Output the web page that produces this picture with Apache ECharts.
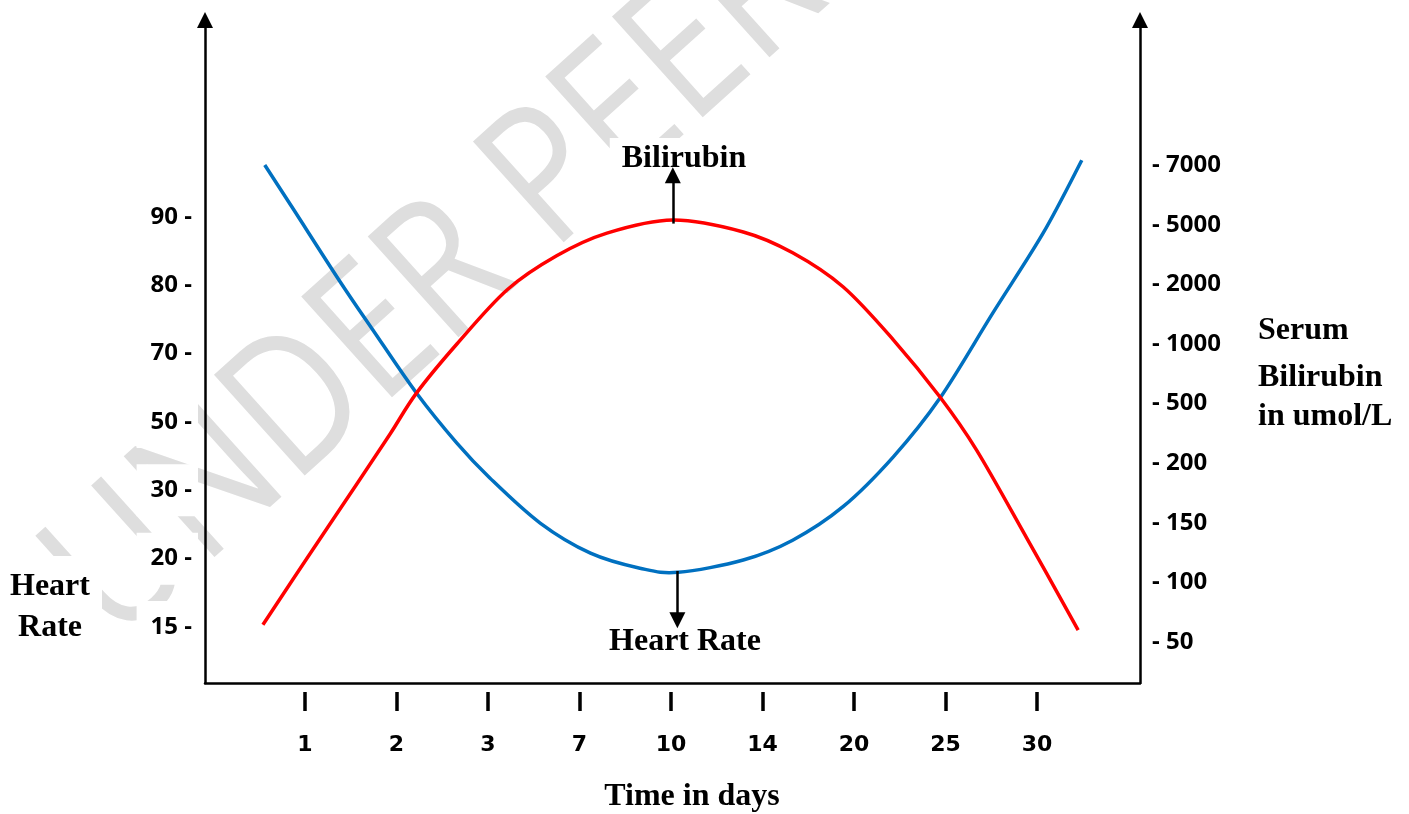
<!DOCTYPE html>
<html>
<head>
<meta charset="utf-8">
<script src="https://cdn.jsdelivr.net/npm/echarts@6/dist/echarts.min.js"></script>
<style>
  html, body { margin: 0; padding: 0; background: #fff; }
  #main { width: 1409px; height: 814px; }
</style>
</head>
<body>
<div id="main"></div>
<script>
// tick labels, in the order they sit on each axis
var dayLabels = ['1', '2', '3', '7', '10', '14', '20', '25', '30'];
var heartLabels = ['15', '20', '30', '50', '70', '80', '90'];
var biliLabels = ['50', '100', '150', '200', '500', '1000', '2000', '5000', '7000'];

// x = tick slot (1 = day 1 ... 9 = day 30), y = label slot on its own axis
var heartRate = [
  [0.56, 7.76], [0.87, 7.12], [1.38, 6.06], [1.74, 5.35], [2.22, 4.42],
  [2.66, 3.69], [3.02, 3.18], [3.57, 2.52], [4.12, 2.08], [4.66, 1.86],
  [5.08, 1.80], [5.79, 1.98], [6.33, 2.27], [6.88, 2.76], [7.43, 3.49],
  [7.94, 4.35], [8.52, 5.60], [9.07, 6.77], [9.49, 7.83]
];
var bilirubin = [
  [0.54, 1.29], [1.02, 2.40], [1.57, 3.66], [1.93, 4.49], [2.22, 5.18],
  [2.66, 6.00], [3.21, 6.91], [3.75, 7.48], [4.30, 7.86], [5.02, 8.08],
  [5.79, 7.88], [6.33, 7.53], [6.88, 6.96], [7.43, 6.07], [7.94, 5.11],
  [8.34, 4.22], [8.89, 2.74], [9.45, 1.20]
];
// annotation arrows (from curve to arrow tip)
var biliArrow = [[5.02, 8.02], [5.02, 8.83]];
var heartArrow = [[5.07, 1.82], [5.07, 1.10]];

var dayTicks = dayLabels.map(function (d, i) { return i + 1; });
var heartTicks = heartLabels.map(function (d, i) { return i + 1; });
var biliTicks = biliLabels.map(function (d, i) { return i + 1; });

var serif = '"Liberation Serif", "Times New Roman", serif';
var sans = '"Open Sans", Lato, sans-serif';

function pick(arr, v) {
  var s = arr[Math.round(v) - 1];
  return s === undefined ? '' : s;
}

// 经过各数据点的平滑曲线 (catmull-rom -> bezier), 坐标由坐标轴换算
function splineItem(data, color) {
  return function (params, api) {
    if (params.dataIndex !== 0) return;
    var p = data.map(function (d) { return api.coord(d); });
    var path = 'M' + p[0][0] + ',' + p[0][1];
    for (var i = 0; i < p.length - 1; i++) {
      var p0 = p[i - 1] || p[i];
      var p1 = p[i];
      var p2 = p[i + 1];
      var p3 = p[i + 2] || p2;
      var c1x = p1[0] + (p2[0] - p0[0]) / 6;
      var c1y = p1[1] + (p2[1] - p0[1]) / 6;
      var c2x = p2[0] - (p3[0] - p1[0]) / 6;
      var c2y = p2[1] - (p3[1] - p1[1]) / 6;
      path += ' C' + c1x + ',' + c1y + ' ' + c2x + ',' + c2y + ' ' + p2[0] + ',' + p2[1];
    }
    return {
      type: 'path',
      shape: { pathData: path },
      style: { fill: 'none', stroke: color, lineWidth: 3.5 }
    };
  };
}

function arrowLine(pts) {
  return {
    silent: true, symbol: ['none', 'triangle'], symbolSize: 16,
    lineStyle: { color: '#000', width: 2.5, type: 'solid' },
    label: { show: false },
    emphasis: { disabled: true },
    data: [[{ coord: pts[0] }, { coord: pts[1] }]]
  };
}

var myChart = echarts.init(document.getElementById('main'));
var option = {
  backgroundColor: '#fff',
  animation: false,
  grid: { left: 205, right: 269, top: 20, bottom: 131 },
  xAxis: [{
    type: 'value', min: -0.093, max: 10.126,
    axisLine: { onZero: false, lineStyle: { color: '#000', width: 2.5 } },
    axisTick: { show: false },
    axisLabel: { show: false },
    splitLine: { show: false }
  }, {
    // tick marks sit a little below the axis line
    type: 'value', min: -0.093, max: 10.126,
    position: 'bottom', offset: 9,
    axisLine: { show: false, onZero: false },
    axisTick: { show: true, customValues: dayTicks, length: 19, lineStyle: { color: '#000', width: 3.5 } },
    axisLabel: {
      customValues: dayTicks, margin: 42,
      formatter: function (v) { return pick(dayLabels, v); },
      color: '#000', fontSize: 22, fontWeight: 'bold', fontFamily: '"DejaVu Sans", sans-serif'
    },
    splitLine: { show: false }
  }],
  yAxis: [{
    type: 'value', position: 'left', min: 0.18, max: 9.883,
    axisLine: { onZero: false, symbol: ['none', 'triangle'], symbolSize: [16, 16], lineStyle: { color: '#000', width: 2.5 } },
    axisTick: { show: false },
    axisLabel: {
      customValues: heartTicks, margin: 7,
      formatter: function (v) { return pick(heartLabels, v) + ' -'; },
      color: '#000', fontSize: 24, fontWeight: 'bold', fontFamily: sans,
      backgroundColor: '#fff', padding: [14, 6, 14, 14]
    },
    splitLine: { show: false }
  }, {
    type: 'value', position: 'right', min: 0.312, max: 11.436,
    axisLine: { onZero: false, symbol: ['none', 'triangle'], symbolSize: [16, 16], lineStyle: { color: '#000', width: 2.5 } },
    axisTick: { show: false },
    axisLabel: {
      customValues: biliTicks, margin: 12,
      formatter: function (v) { return '- ' + pick(biliLabels, v); },
      color: '#000', fontSize: 24, fontWeight: 'bold', fontFamily: sans
    },
    splitLine: { show: false }
  }],
  series: [{
    name: 'Heart Rate',
    type: 'custom', xAxisIndex: 0, yAxisIndex: 0, z: 3, clip: false,
    encode: { x: 0, y: 1 },
    data: heartRate,
    renderItem: splineItem(heartRate, '#0070c0'),
    markLine: arrowLine(heartArrow)
  }, {
    name: 'Bilirubin',
    type: 'custom', xAxisIndex: 0, yAxisIndex: 1, z: 3, clip: false,
    encode: { x: 0, y: 1 },
    data: bilirubin,
    renderItem: splineItem(bilirubin, '#ff0000'),
    markLine: arrowLine(biliArrow)
  }],
  graphic: [
    // watermark
    {
      type: 'text', x: 79, y: 606, rotation: 0.733, scaleX: 0.85, z: -10, silent: true,
      style: { text: 'UNDER PEER REVIEW', font: '190px "Open Sans", sans-serif', fill: '#dedede', textAlign: 'left', textVerticalAlign: 'middle' }
    },
    {
      type: 'text', x: 684, y: 159, z: 1,
      style: { text: 'Bilirubin', font: 'bold 32px ' + serif, fill: '#000', textAlign: 'center', textVerticalAlign: 'middle', backgroundColor: '#fff', padding: [10, 12, 0, 12] }
    },
    {
      type: 'text', x: 685, y: 642, z: 1,
      style: { text: 'Heart Rate', font: 'bold 32px ' + serif, fill: '#000', textAlign: 'center', textVerticalAlign: 'middle' }
    },
    {
      type: 'text', x: 50, y: 607,
      style: { text: 'Heart\nRate', font: 'bold 32px ' + serif, lineHeight: 41, fill: '#000', textAlign: 'center', textVerticalAlign: 'middle', backgroundColor: '#fff', padding: [10, 12] }
    },
    {
      type: 'text', x: 1258, y: 331,
      style: { text: 'Serum', font: 'bold 32px ' + serif, fill: '#000', textAlign: 'left', textVerticalAlign: 'middle' }
    },
    {
      type: 'text', x: 1258, y: 378,
      style: { text: 'Bilirubin', font: 'bold 32px ' + serif, fill: '#000', textAlign: 'left', textVerticalAlign: 'middle' }
    },
    {
      type: 'text', x: 1258, y: 417,
      style: { text: 'in umol/L', font: 'bold 32px ' + serif, fill: '#000', textAlign: 'left', textVerticalAlign: 'middle' }
    },
    {
      type: 'text', x: 692, y: 797,
      style: { text: 'Time in days', font: 'bold 32px ' + serif, fill: '#000', textAlign: 'center', textVerticalAlign: 'middle' }
    }
  ]
};
if (option && typeof option === 'object') {
  myChart.setOption(option, true);
}
</script>
</body>
</html>
